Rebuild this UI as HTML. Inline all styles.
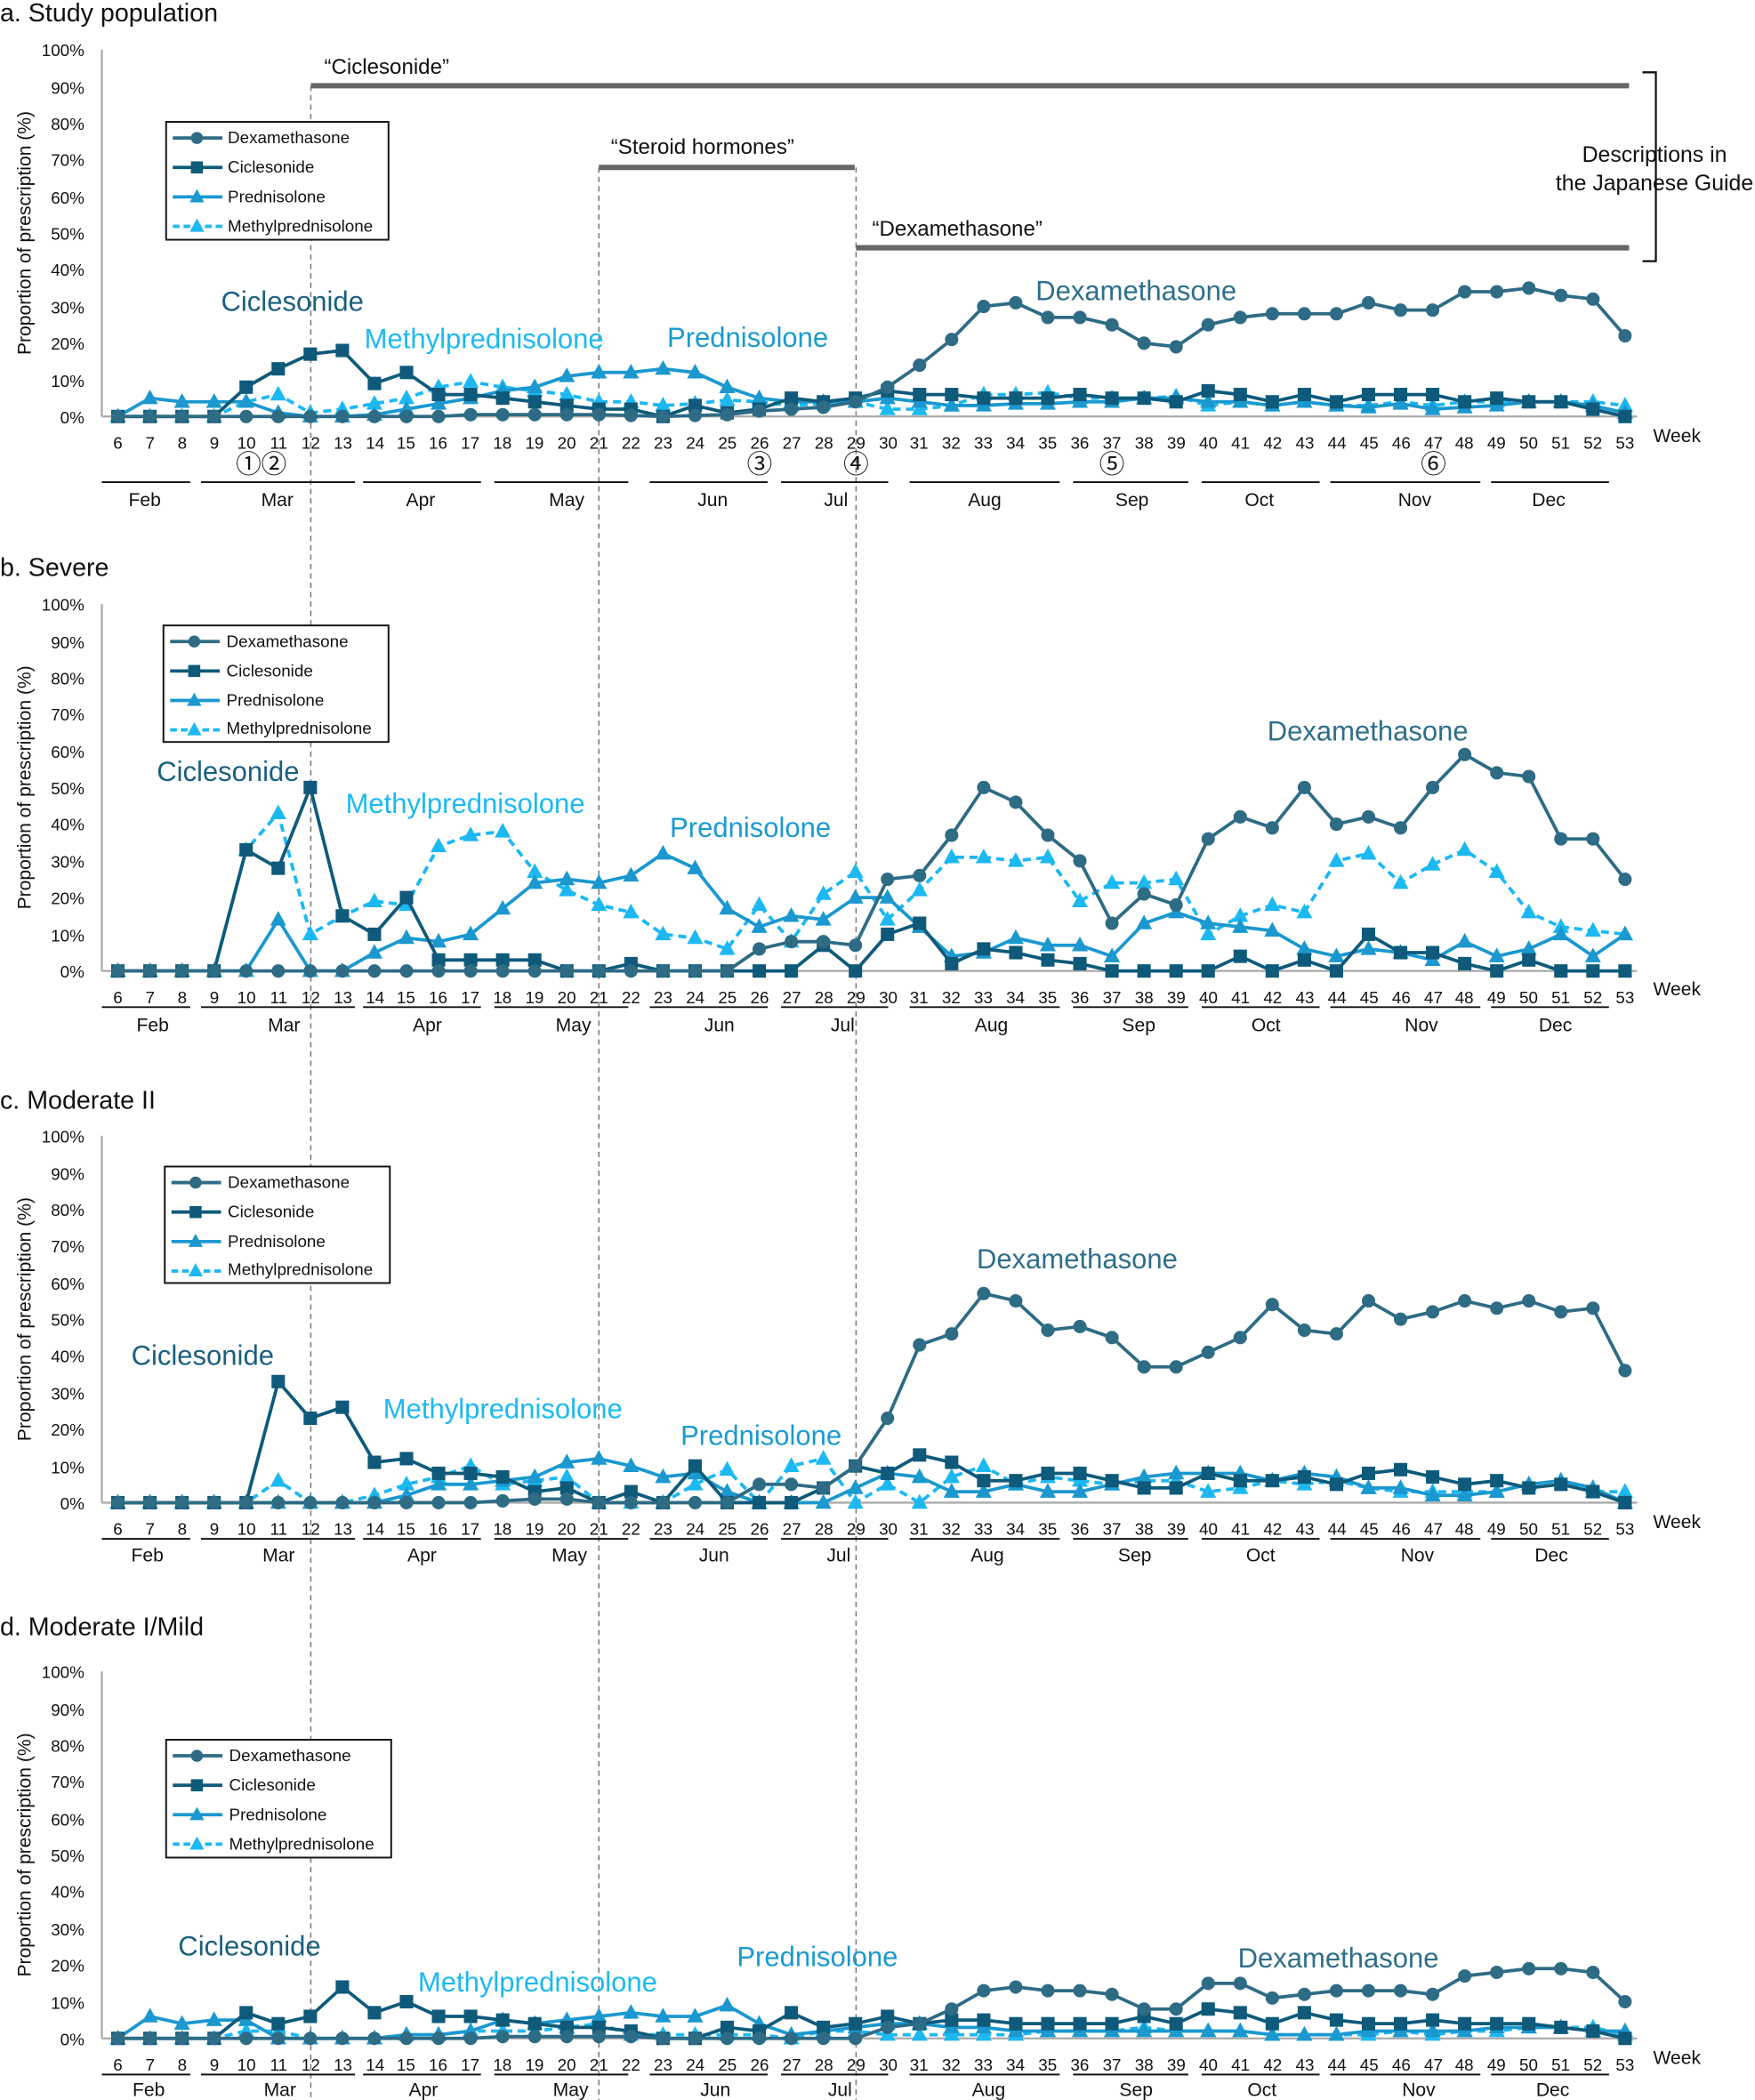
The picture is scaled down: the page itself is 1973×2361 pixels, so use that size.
<!DOCTYPE html>
<html><head><meta charset="utf-8">
<style>
html,body{margin:0;padding:0;background:#fff;}
svg{display:block;font-family:"Liberation Sans","Noto Sans CJK JP",sans-serif;}
.wk{font-size:12.5px;text-anchor:middle;fill:#111;}
.yl{font-size:12.5px;text-anchor:end;fill:#111;}
.mo{font-size:14px;text-anchor:middle;fill:#111;}
.ttl{font-size:19px;fill:#111;}
.lg{font-size:12.5px;fill:#111;}
.an{font-size:20.6px;}
.yt{font-size:14px;fill:#111;text-anchor:middle;}
</style></head><body>
<svg id="s" width="1973" height="2361" viewBox="0 0 1310 1568" preserveAspectRatio="none" xmlns="http://www.w3.org/2000/svg">
<rect width="1310" height="1568" fill="#fff"/>
<text class="ttl" x="0" y="16">a. Study population</text>
<text class="ttl" x="0" y="430">b. Severe</text>
<text class="ttl" x="0" y="828">c. Moderate II</text>
<text class="ttl" x="0" y="1221">d. Moderate I/Mild</text>

<g fill="#111" font-size="16">
<text x="242" y="55">“Ciclesonide”</text>
<text x="456" y="115">“Steroid hormones”</text>
<text x="651" y="176">“Dexamethasone”</text>
<text x="1235" y="121" text-anchor="middle" font-size="16.5">Descriptions in</text>
<text x="1235" y="142" text-anchor="middle" font-size="16.5">the Japanese Guide</text>
</g>
<g stroke="#666" stroke-width="4">
<line x1="232" y1="64" x2="1216" y2="64"/>
<line x1="447" y1="125" x2="638" y2="125"/>
<line x1="639" y1="185" x2="1216" y2="185"/>
</g>
<polyline points="1226,54 1236,54 1236,195 1226,195" fill="none" stroke="#111" stroke-width="1.5"/>
<g stroke="#777" stroke-width="1" stroke-dasharray="4,3">
<line x1="232" y1="64" x2="232" y2="1568"/>
<line x1="447" y1="125" x2="447" y2="1568"/>
<line x1="639" y1="125" x2="639" y2="1568"/>
</g>

<g stroke="#aaa" stroke-width="1.5">
<line x1="76" y1="37" x2="76" y2="311"/><line x1="76" y1="311" x2="1222" y2="311"/>
<line x1="76" y1="451" x2="76" y2="725"/><line x1="76" y1="725" x2="1222" y2="725"/>
<line x1="76" y1="848" x2="76" y2="1122"/><line x1="76" y1="1122" x2="1222" y2="1122"/>
<line x1="76" y1="1248" x2="76" y2="1522"/><line x1="76" y1="1522" x2="1222" y2="1522"/>
</g>

<g class="yl">
<text x="63" y="316">0%</text><text x="63" y="289">10%</text><text x="63" y="261">20%</text><text x="63" y="234">30%</text><text x="63" y="206">40%</text><text x="63" y="179">50%</text><text x="63" y="152">60%</text><text x="63" y="124">70%</text><text x="63" y="97">80%</text><text x="63" y="70">90%</text><text x="63" y="42">100%</text>
<text x="63" y="730">0%</text><text x="63" y="703">10%</text><text x="63" y="675">20%</text><text x="63" y="648">30%</text><text x="63" y="620">40%</text><text x="63" y="593">50%</text><text x="63" y="566">60%</text><text x="63" y="538">70%</text><text x="63" y="511">80%</text><text x="63" y="484">90%</text><text x="63" y="456">100%</text>
<text x="63" y="1127">0%</text><text x="63" y="1100">10%</text><text x="63" y="1072">20%</text><text x="63" y="1045">30%</text><text x="63" y="1017">40%</text><text x="63" y="990">50%</text><text x="63" y="963">60%</text><text x="63" y="935">70%</text><text x="63" y="908">80%</text><text x="63" y="881">90%</text><text x="63" y="853">100%</text>
<text x="63" y="1527">0%</text><text x="63" y="1500">10%</text><text x="63" y="1472">20%</text><text x="63" y="1445">30%</text><text x="63" y="1417">40%</text><text x="63" y="1390">50%</text><text x="63" y="1363">60%</text><text x="63" y="1335">70%</text><text x="63" y="1308">80%</text><text x="63" y="1281">90%</text><text x="63" y="1253">100%</text>
</g>
<text class="yt" transform="translate(23,174) rotate(-90)">Proportion of prescription (%)</text>
<text class="yt" transform="translate(23,588) rotate(-90)">Proportion of prescription (%)</text>
<text class="yt" transform="translate(23,985) rotate(-90)">Proportion of prescription (%)</text>
<text class="yt" transform="translate(23,1385) rotate(-90)">Proportion of prescription (%)</text>

<text class="wk" y="335"><tspan x="88">6</tspan><tspan x="112">7</tspan><tspan x="136">8</tspan><tspan x="160">9</tspan><tspan x="184">10</tspan><tspan x="208">11</tspan><tspan x="232">12</tspan><tspan x="256">13</tspan><tspan x="280">14</tspan><tspan x="303">15</tspan><tspan x="327">16</tspan><tspan x="351">17</tspan><tspan x="375">18</tspan><tspan x="399">19</tspan><tspan x="423">20</tspan><tspan x="447">21</tspan><tspan x="471">22</tspan><tspan x="495">23</tspan><tspan x="519">24</tspan><tspan x="543">25</tspan><tspan x="567">26</tspan><tspan x="591">27</tspan><tspan x="615">28</tspan><tspan x="639">29</tspan><tspan x="663">30</tspan><tspan x="686">31</tspan><tspan x="710">32</tspan><tspan x="734">33</tspan><tspan x="758">34</tspan><tspan x="782">35</tspan><tspan x="806">36</tspan><tspan x="830">37</tspan><tspan x="854">38</tspan><tspan x="878">39</tspan><tspan x="902">40</tspan><tspan x="926">41</tspan><tspan x="950">42</tspan><tspan x="974">43</tspan><tspan x="998">44</tspan><tspan x="1022">45</tspan><tspan x="1046">46</tspan><tspan x="1070">47</tspan><tspan x="1093">48</tspan><tspan x="1117">49</tspan><tspan x="1141">50</tspan><tspan x="1165">51</tspan><tspan x="1189">52</tspan><tspan x="1213">53</tspan></text>
<text class="wk" y="749"><tspan x="88">6</tspan><tspan x="112">7</tspan><tspan x="136">8</tspan><tspan x="160">9</tspan><tspan x="184">10</tspan><tspan x="208">11</tspan><tspan x="232">12</tspan><tspan x="256">13</tspan><tspan x="280">14</tspan><tspan x="303">15</tspan><tspan x="327">16</tspan><tspan x="351">17</tspan><tspan x="375">18</tspan><tspan x="399">19</tspan><tspan x="423">20</tspan><tspan x="447">21</tspan><tspan x="471">22</tspan><tspan x="495">23</tspan><tspan x="519">24</tspan><tspan x="543">25</tspan><tspan x="567">26</tspan><tspan x="591">27</tspan><tspan x="615">28</tspan><tspan x="639">29</tspan><tspan x="663">30</tspan><tspan x="686">31</tspan><tspan x="710">32</tspan><tspan x="734">33</tspan><tspan x="758">34</tspan><tspan x="782">35</tspan><tspan x="806">36</tspan><tspan x="830">37</tspan><tspan x="854">38</tspan><tspan x="878">39</tspan><tspan x="902">40</tspan><tspan x="926">41</tspan><tspan x="950">42</tspan><tspan x="974">43</tspan><tspan x="998">44</tspan><tspan x="1022">45</tspan><tspan x="1046">46</tspan><tspan x="1070">47</tspan><tspan x="1093">48</tspan><tspan x="1117">49</tspan><tspan x="1141">50</tspan><tspan x="1165">51</tspan><tspan x="1189">52</tspan><tspan x="1213">53</tspan></text>
<text class="wk" y="1146"><tspan x="88">6</tspan><tspan x="112">7</tspan><tspan x="136">8</tspan><tspan x="160">9</tspan><tspan x="184">10</tspan><tspan x="208">11</tspan><tspan x="232">12</tspan><tspan x="256">13</tspan><tspan x="280">14</tspan><tspan x="303">15</tspan><tspan x="327">16</tspan><tspan x="351">17</tspan><tspan x="375">18</tspan><tspan x="399">19</tspan><tspan x="423">20</tspan><tspan x="447">21</tspan><tspan x="471">22</tspan><tspan x="495">23</tspan><tspan x="519">24</tspan><tspan x="543">25</tspan><tspan x="567">26</tspan><tspan x="591">27</tspan><tspan x="615">28</tspan><tspan x="639">29</tspan><tspan x="663">30</tspan><tspan x="686">31</tspan><tspan x="710">32</tspan><tspan x="734">33</tspan><tspan x="758">34</tspan><tspan x="782">35</tspan><tspan x="806">36</tspan><tspan x="830">37</tspan><tspan x="854">38</tspan><tspan x="878">39</tspan><tspan x="902">40</tspan><tspan x="926">41</tspan><tspan x="950">42</tspan><tspan x="974">43</tspan><tspan x="998">44</tspan><tspan x="1022">45</tspan><tspan x="1046">46</tspan><tspan x="1070">47</tspan><tspan x="1093">48</tspan><tspan x="1117">49</tspan><tspan x="1141">50</tspan><tspan x="1165">51</tspan><tspan x="1189">52</tspan><tspan x="1213">53</tspan></text>
<text class="wk" y="1546"><tspan x="88">6</tspan><tspan x="112">7</tspan><tspan x="136">8</tspan><tspan x="160">9</tspan><tspan x="184">10</tspan><tspan x="208">11</tspan><tspan x="232">12</tspan><tspan x="256">13</tspan><tspan x="280">14</tspan><tspan x="303">15</tspan><tspan x="327">16</tspan><tspan x="351">17</tspan><tspan x="375">18</tspan><tspan x="399">19</tspan><tspan x="423">20</tspan><tspan x="447">21</tspan><tspan x="471">22</tspan><tspan x="495">23</tspan><tspan x="519">24</tspan><tspan x="543">25</tspan><tspan x="567">26</tspan><tspan x="591">27</tspan><tspan x="615">28</tspan><tspan x="639">29</tspan><tspan x="663">30</tspan><tspan x="686">31</tspan><tspan x="710">32</tspan><tspan x="734">33</tspan><tspan x="758">34</tspan><tspan x="782">35</tspan><tspan x="806">36</tspan><tspan x="830">37</tspan><tspan x="854">38</tspan><tspan x="878">39</tspan><tspan x="902">40</tspan><tspan x="926">41</tspan><tspan x="950">42</tspan><tspan x="974">43</tspan><tspan x="998">44</tspan><tspan x="1022">45</tspan><tspan x="1046">46</tspan><tspan x="1070">47</tspan><tspan x="1093">48</tspan><tspan x="1117">49</tspan><tspan x="1141">50</tspan><tspan x="1165">51</tspan><tspan x="1189">52</tspan><tspan x="1213">53</tspan></text>
<g font-size="14" fill="#111">
<text x="1234" y="330">Week</text><text x="1234" y="743">Week</text><text x="1234" y="1141">Week</text><text x="1234" y="1541">Week</text>
</g>
<g font-size="19" fill="#111" text-anchor="middle">
<text x="195" y="353">①②</text><text x="567" y="353">③</text><text x="639" y="353">④</text><text x="830" y="353">⑤</text><text x="1070" y="353">⑥</text>
</g>

<g id="mlines" stroke="#111" stroke-width="1.3"></g>
<g class="mo">
<text x="108" y="378">Feb</text><text x="207" y="378">Mar</text><text x="314" y="378">Apr</text><text x="423" y="378">May</text><text x="532" y="378">Jun</text><text x="624" y="378">Jul</text><text x="735" y="378">Aug</text><text x="845" y="378">Sep</text><text x="940" y="378">Oct</text><text x="1056" y="378">Nov</text><text x="1156" y="378">Dec</text>
<text x="114" y="770">Feb</text><text x="212" y="770">Mar</text><text x="319" y="770">Apr</text><text x="428" y="770">May</text><text x="537" y="770">Jun</text><text x="629" y="770">Jul</text><text x="740" y="770">Aug</text><text x="850" y="770">Sep</text><text x="945" y="770">Oct</text><text x="1061" y="770">Nov</text><text x="1161" y="770">Dec</text>
<text x="110" y="1166">Feb</text><text x="208" y="1166">Mar</text><text x="315" y="1166">Apr</text><text x="425" y="1166">May</text><text x="533" y="1166">Jun</text><text x="626" y="1166">Jul</text><text x="737" y="1166">Aug</text><text x="847" y="1166">Sep</text><text x="941" y="1166">Oct</text><text x="1058" y="1166">Nov</text><text x="1158" y="1166">Dec</text>
<text x="111" y="1565">Feb</text><text x="209" y="1565">Mar</text><text x="316" y="1565">Apr</text><text x="426" y="1565">May</text><text x="534" y="1565">Jun</text><text x="627" y="1565">Jul</text><text x="738" y="1565">Aug</text><text x="848" y="1565">Sep</text><text x="942" y="1565">Oct</text><text x="1059" y="1565">Nov</text><text x="1159" y="1565">Dec</text>
</g>

<g class="an">
<text x="165" y="232" fill="#1a5f7e">Ciclesonide</text><text x="272" y="260" fill="#1cb9f0">Methylprednisolone</text><text x="498" y="259" fill="#1a9ad0">Prednisolone</text><text x="773" y="224" fill="#2e6f8a">Dexamethasone</text>
<text x="117" y="583" fill="#1a5f7e">Ciclesonide</text><text x="258" y="607" fill="#1cb9f0">Methylprednisolone</text><text x="500" y="625" fill="#1a9ad0">Prednisolone</text><text x="946" y="553" fill="#2e6f8a">Dexamethasone</text>
<text x="98" y="1019" fill="#1a5f7e">Ciclesonide</text><text x="286" y="1059" fill="#1cb9f0">Methylprednisolone</text><text x="508" y="1079" fill="#1a9ad0">Prednisolone</text><text x="729" y="947" fill="#2e6f8a">Dexamethasone</text>
<text x="133" y="1460" fill="#1a5f7e">Ciclesonide</text><text x="312" y="1487" fill="#1cb9f0">Methylprednisolone</text><text x="550" y="1468" fill="#1a9ad0">Prednisolone</text><text x="924" y="1469" fill="#2e6f8a">Dexamethasone</text>
</g>

<g id="series"></g>

<g id="legs"></g>
<g class="lg">
<text x="170" y="107">Dexamethasone</text><text x="170" y="129">Ciclesonide</text><text x="170" y="151">Prednisolone</text><text x="170" y="173">Methylprednisolone</text>
<text x="169" y="483">Dexamethasone</text><text x="169" y="505">Ciclesonide</text><text x="169" y="527">Prednisolone</text><text x="169" y="548">Methylprednisolone</text>
<text x="170" y="887">Dexamethasone</text><text x="170" y="909">Ciclesonide</text><text x="170" y="931">Prednisolone</text><text x="170" y="952">Methylprednisolone</text>
<text x="171" y="1315">Dexamethasone</text><text x="171" y="1337">Ciclesonide</text><text x="171" y="1359">Prednisolone</text><text x="171" y="1381">Methylprednisolone</text>
</g>
</svg>
<script>
(function(){
var NS="http://www.w3.org/2000/svg";
function el(p,t,a){var e=document.createElementNS(NS,t);for(var k in a)e.setAttribute(k,a[k]);p.appendChild(e);return e;}
var ml=document.getElementById('mlines');
var segs=[[76,142],[150,265],[271,359],[369,469],[485,573],[583,663],[679,791],[801,887],[897,985],[993,1105],[1113,1201]];
[360,752,1149,1549].forEach(function(y){segs.forEach(function(s){el(ml,'line',{x1:s[0],y1:y,x2:s[1],y2:y});});});
var C={d:'#2e6b85',c:'#0f5a7a',p:'#1a98cf',m:'#1cb8f2'};
var P=[
 {y0:311,d:[0,0,0,0,0,0,0,0,0,0,0,0.5,0.5,0.5,0.5,0.5,0.3,0,0.3,0.5,1.5,2,2.5,4,8,14,21,30,31,27,27,25,20,19,25,27,28,28,28,31,29,29,34,34,35,33,32,22],
  c:[0,0,0,0,8,13,17,18,9,12,6,6,5,4,3,2,2,0,3,1,2,5,4,5,7,6,6,5,5,5,6,5,5,4,7,6,4,6,4,6,6,6,4,5,4,4,2,0],
  p:[0,5,4,4,4,1,0,0,0.5,2,3.5,5,7,8,11,12,12,13,12,8,5,4,4,4,5,4,3,3,3.5,3.5,4,4,5,5,4,4,3,4,3,2.5,3.5,2,2.5,3,4,4,3,1],
  m:[0,0,0,0,4,6,1,2,3.5,5,8,9.5,8,7,6,4,4,3,3.5,4.5,4,3,3.5,4,2,2,3,6,6,6.5,5,5,5,5.5,3,4,3,4,3,3,4,3,4,4,4,4,4,3]},
 {y0:725,d:[0,0,0,0,0,0,0,0,0,0,0,0,0,0,0,0,0,0,0,0,6,8,8,7,25,26,37,50,46,37,30,13,21,18,36,42,39,50,40,42,39,50,59,54,53,36,36,25],
  c:[0,0,0,0,33,28,50,15,10,20,3,3,3,3,0,0,2,0,0,0,0,0,7,0,10,13,2,6,5,3,2,0,0,0,0,4,0,3,0,10,5,5,2,0,3,0,0,0],
  p:[0,0,0,0,0,14,0,0,5,9,8,10,17,24,25,24,26,32,28,17,12,15,14,20,20,12,4,5,9,7,7,4,13,16,13,12,11,6,4,6,5,3,8,4,6,10,4,10],
  m:[0,0,0,0,33,43,10,15,19,18,34,37,38,27,22,18,16,10,9,6,18,8,21,27,14,22,31,31,30,31,19,24,24,25,10,15,18,16,30,32,24,29,33,27,16,12,11,10]},
 {y0:1122,d:[0,0,0,0,0,0,0,0,0,0,0,0,0.5,1,1,0,0,0,0,0,5,5,4,10,23,43,46,57,55,47,48,45,37,37,41,45,54,47,46,55,50,52,55,53,55,52,53,36],
  c:[0,0,0,0,0,33,23,26,11,12,8,8,7,3,4,0,3,0,10,0,0,0,4,10,8,13,11,6,6,8,8,6,4,4,8,6,6,7,5,8,9,7,5,6,4,5,3,0],
  p:[0,0,0,0,0,0,0,0,0,2,5,5,6,7,11,12,10,7,8,3,0,0,0,4,8,7,3,3,5,3,3,5,7,8,8,8,6,8,7,4,4,2,2,3,5,6,4,0],
  m:[0,0,0,0,0,6,0,0,2,5,7,10,5,6,7,0,0,0,5,9,0,10,12,0,5,0,7,10,5,7,6,5,6,6,3,4,6,5,6,4,3,3,3,3,5,6,3,3]},
 {y0:1522,d:[0,0,0,0,0,0,0,0,0,0,0,0,0.5,0.5,0.5,0.5,0.5,0,0,0,0,0,0,0,3,4,8,13,14,13,13,12,8,8,15,15,11,12,13,13,13,12,17,18,19,19,18,10],
  c:[0,0,0,0,7,4,6,14,7,10,6,6,5,4,3,3,2,0,0,3,2,7,3,4,6,4,5,5,4,4,4,4,6,4,8,7,4,7,5,4,4,5,4,4,4,3,2,0],
  p:[0,6,4,5,5,0,0,0,0,1,1,2,5,4,5,6,7,6,6,9,4,1,2,3,4,4,3,3,2,2,2,2,2,2,2,2,1,1,1,2,2,2,2,3,3,3,2,2],
  m:[0,0,0,0,2,2,0,0,0,1,1,2,2,2,3,4,1,1,1,1,1,0,2,2,1,1,1,1,1,2,2,2,3,2,2,2,1,1,1,1,2,1,2,2,3,3,3,1]}
];
var sg=document.getElementById('series');
function X(i){return 88+i*23.936;}
function mk(g,k,x,y,s){
 var col=C[k];
 if(k=='d')el(g,'circle',{cx:x,cy:y,r:5*s,fill:col});
 else if(k=='c')el(g,'rect',{x:x-5*s,y:y-5*s,width:10*s,height:10*s,fill:col});
 else el(g,'polygon',{points:(x)+','+(y-6.5*s)+' '+(x+6*s)+','+(y+4.5*s)+' '+(x-6*s)+','+(y+4.5*s),fill:col});
}
P.forEach(function(p){
 ['m','p','c','d'].forEach(function(k){
  var pts=p[k].map(function(v,i){return X(i).toFixed(1)+','+(p.y0-v*2.74).toFixed(1);}).join(' ');
  var a={points:pts,fill:'none',stroke:C[k],'stroke-width':2.5,'stroke-linejoin':'round'};
  if(k=='m')a['stroke-dasharray']='6,4';
  el(sg,'polyline',a);
  p[k].forEach(function(v,i){mk(sg,k,X(i),p.y0-v*2.74,1);});
 });
});
var lg=document.getElementById('legs');
[[124,91,290,179],[122,467,290,554],[123,871,291,958],[124,1299,292,1387]].forEach(function(b){
 el(lg,'rect',{x:b[0],y:b[1],width:b[2]-b[0],height:b[3]-b[1],fill:'#fff',stroke:'#111','stroke-width':1.3});
 var ks=['d','c','p','m'];
 ks.forEach(function(k,j){
  var y=b[1]+12+j*22; var x1=b[0]+5,x2=b[0]+42,xm=b[0]+23;
  var a={x1:x1,y1:y,x2:x2,y2:y,stroke:C[k],'stroke-width':2.5};
  if(k=='m')a['stroke-dasharray']='5,3';
  el(lg,'line',a); mk(lg,k,xm,y,0.9);
 });
});
})();
</script>
</body></html>
